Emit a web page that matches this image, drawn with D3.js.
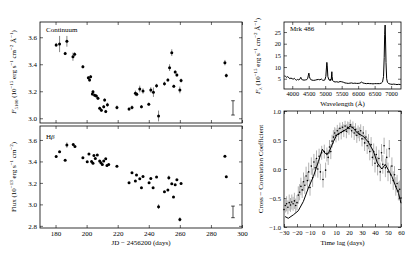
<!DOCTYPE html>
<html lang="en">
<head>
<meta charset="UTF-8">
<title>Mrk 486</title>
<script src="https://d3js.org/d3.v7.min.js"></script>
<style>
  body { margin: 0; background: #fff; }
  svg text { font-family: "Liberation Serif", "DejaVu Serif", serif; fill: #000; }
</style>
</head>
<body>
<div id="chart"></div>
<script>
// continuum light curve: JD-2456200, flux, error
const contJd   = [180.4,182.6,186.2,187.3,191.2,192.3,197.6,201.1,201.9,202.6,203.7,204.1,205.2,206.3,207.3,208.4,209.5,211.0,211.6,212.3,213.4,219.5,227.3,229.2,231.4,232.3,234.2,235.3,236.3,240.0,241.3,243.0,245.0,246.3,250.1,252.3,253.4,254.8,256.1,257.0,258.1,260.0,260.8,289.0,289.9];
const contFlux = [3.543,3.55,3.48,3.57,3.456,3.474,3.382,3.30,3.284,3.308,3.18,3.197,3.17,3.165,3.148,3.074,3.06,3.086,3.135,3.05,3.10,3.08,3.068,3.08,3.185,3.178,3.217,3.086,3.202,3.104,3.21,3.193,3.24,3.017,3.256,3.284,3.375,3.486,3.237,3.343,3.321,3.21,3.279,3.412,3.316];
const contErr  = [0.015,0.06,0.012,0.04,0.03,0.015,0.012,0.012,0.012,0.012,0.012,0.012,0.012,0.012,0.012,0.012,0.012,0.012,0.012,0.012,0.015,0.015,0.012,0.015,0.02,0.015,0.025,0.012,0.02,0.012,0.02,0.035,0.015,0.04,0.015,0.012,0.025,0.025,0.012,0.012,0.012,0.025,0.015,0.02,0.015];

// H-beta light curve
const hbJd   = [180.4,182.6,186.2,187.3,191.4,192.5,197.6,200.4,201.5,203.2,204.1,204.7,205.6,206.9,208.4,209.2,210.1,211.0,212.3,213.1,214.2,219.5,227.3,229.2,231.4,232.1,234.2,235.3,236.3,240.2,241.3,242.8,245.0,246.3,250.1,252.3,252.9,254.8,255.9,257.0,258.1,260.0,260.8,289.0,289.9];
const hbFlux = [3.447,3.49,3.41,3.552,3.558,3.54,3.434,3.397,3.47,3.40,3.384,3.456,3.428,3.459,3.403,3.388,3.372,3.403,3.425,3.363,3.372,3.356,3.202,3.295,3.217,3.273,3.239,3.155,3.26,3.202,3.242,3.155,3.254,2.979,3.118,3.133,3.248,3.193,3.068,3.183,3.23,2.86,3.195,3.449,3.258];
const hbErr  = [0.006,0.006,0.006,0.025,0.006,0.006,0.006,0.006,0.006,0.006,0.006,0.006,0.006,0.006,0.006,0.006,0.006,0.006,0.006,0.006,0.006,0.006,0.006,0.006,0.006,0.006,0.006,0.006,0.006,0.006,0.006,0.006,0.006,0.022,0.006,0.006,0.02,0.006,0.006,0.006,0.006,0.02,0.006,0.008,0.008];

// typical error bars drawn at the right
const contBar = [294.2, 3.077, 0.053];
const hbBar   = [294.2, 2.93, 0.054];

// mean spectrum: wavelength (A), flux
const specWave = [3760,3800,3830,3860,3900,3930,3960,4000,4030,4060,4100,4130,4160,4200,4240,4260,4280,4320,4360,4400,4440,4470,4490,4505,4520,4540,4570,4600,4650,4700,4750,4800,4840,4880,4920,4960,4990,5020,5040,5050,5062,5080,5110,5140,5152,5165,5185,5195,5202,5210,5225,5260,5300,5350,5400,5450,5500,5550,5600,5650,5700,5750,5800,5850,5900,5950,6000,6050,6090,6110,6140,6200,6250,6300,6350,6400,6450,6500,6550,6600,6650,6700,6740,6770,6790,6805,6818,6830,6845,6865,6890,6930,6980,7030,7080,7130,7180,7230,7290];
const specFlux = [6.2,6.0,5.6,5.9,5.4,5.0,5.3,5.0,4.8,5.2,4.6,4.4,4.7,4.5,5.0,5.6,4.8,4.5,4.4,4.5,4.6,5.2,6.5,7.4,6.0,5.0,4.6,4.4,4.3,4.4,4.6,4.7,4.5,4.9,4.4,4.3,4.5,6.0,10.0,12.0,10.5,6.0,4.6,4.3,4.9,4.2,4.6,7.0,8.0,6.0,4.2,3.8,3.6,3.7,3.5,3.8,3.7,3.5,3.2,3.1,3.0,3.1,3.2,3.0,3.1,3.0,3.0,3.1,3.4,3.6,3.2,3.0,2.9,3.0,2.9,2.9,2.8,2.9,2.9,2.9,2.9,3.1,3.6,6.0,14.0,24.0,28.0,22.0,12.0,5.0,3.4,2.9,2.7,2.6,2.7,2.6,2.5,2.6,2.5];

// interpolated cross-correlation function
const iccfLag = [-29.2,-26.7,-22.8,-19.0,-15.1,-11.3,-7.4,-3.5,-0.5,1.6,4.2,8.0,10.6,14.5,18.4,20.9,23.4,26.5,31.2,35.0,38.9,41.9,45.3,47.9,50.4,53.0,55.6,58.1,60.0];
const iccfR   = [-0.82,-0.85,-0.79,-0.72,-0.56,-0.33,-0.13,0.13,0.34,0.27,0.27,0.47,0.59,0.64,0.69,0.74,0.70,0.62,0.56,0.46,0.30,0.10,0.0,0.08,-0.02,-0.13,-0.28,-0.42,-0.59];

// discrete correlation points with errors
const dcfLag = [-30,-29,-28,-27,-26,-25,-24,-23,-22,-21,-20,-19,-18,-17,-16,-15,-14,-13,-12,-11,-10,-9,-8,-7,-6,-5,-4,-3,-2,-1,0,1,2,3,4,5,6,7,8,9,10,11,12,13,14,15,16,17,18,19,20,21,22,23,24,25,26,27,28,29,30,31,32,33,34,35,36,37,38,39,40,41,42,43,44,45,46,47,48,49,50,51,52,53,54,55,56,57,58,59,60];
const dcfR   = [-0.70,-0.63,-0.60,-0.66,-0.58,-0.62,-0.57,-0.60,-0.55,-0.63,-0.58,-0.45,-0.40,-0.30,-0.36,-0.22,-0.28,-0.12,-0.20,-0.05,-0.32,0.05,-0.15,0.12,0.02,0.18,0.00,0.22,-0.05,0.28,-0.18,0.30,-0.02,0.25,0.20,0.38,0.30,0.48,0.55,0.62,0.58,0.66,0.60,0.70,0.63,0.72,0.66,0.74,0.65,0.72,0.70,0.76,0.66,0.72,0.62,0.68,0.58,0.64,0.60,0.66,0.52,0.62,0.45,0.55,0.40,0.47,0.30,0.42,0.20,0.30,0.10,0.25,0.05,0.18,-0.05,0.28,0.08,0.40,0.02,0.20,-0.05,0.35,-0.10,0.05,-0.20,-0.10,-0.30,-0.25,-0.38,-0.35,-0.50];
const dcfErr = [0.12,0.12,0.13,0.12,0.14,0.12,0.13,0.12,0.14,0.12,0.13,0.15,0.14,0.15,0.14,0.16,0.15,0.16,0.15,0.16,0.14,0.15,0.16,0.14,0.15,0.14,0.15,0.13,0.14,0.12,0.14,0.12,0.13,0.12,0.13,0.12,0.13,0.11,0.12,0.10,0.12,0.10,0.11,0.10,0.12,0.09,0.11,0.09,0.12,0.10,0.11,0.09,0.12,0.10,0.12,0.11,0.13,0.11,0.12,0.11,0.13,0.12,0.14,0.12,0.14,0.13,0.15,0.13,0.15,0.14,0.16,0.14,0.16,0.15,0.16,0.15,0.16,0.14,0.16,0.15,0.16,0.15,0.16,0.15,0.16,0.15,0.16,0.15,0.16,0.15,0.16];

const W = 415, H = 259;
const svg = d3.select("#chart").append("svg").attr("width", W).attr("height", H);
const FS = 7;

// text with italic/sub/sup parts
function rich(sel, parts) {
  let shift = 0;
  parts.forEach(p => {
    const [s, t] = p;
    const ts = sel.append("tspan").text(s);
    let target = 0;
    if (t === "sup") target = -2.6;
    if (t === "sub") target = 1.6;
    ts.attr("dy", target - shift);
    shift = target;
    if (t === "sup" || t === "sub") ts.attr("font-size", 5);
    if (t === "it") ts.attr("font-style", "italic");
  });
}

function panel(left, top, w, h, xs, ys, xt, yt, opt) {
  const g = svg.append("g").attr("transform", `translate(${left},${top})`);
  const xa = g.append("g").attr("transform", `translate(0,${h})`)
    .call(d3.axisBottom(xs).tickValues(xt).tickSize(-3).tickPadding(3).tickFormat(opt.xlabels ? d3.format("d") : ""));
  g.append("g").call(d3.axisTop(xs).tickValues(xt).tickSize(-3).tickFormat(""));
  g.append("g").call(d3.axisLeft(ys).tickValues(yt).tickSize(-3).tickPadding(3).tickFormat(opt.yfmt));
  g.append("g").attr("transform", `translate(${w},0)`)
    .call(d3.axisRight(ys).tickValues(yt).tickSize(-3).tickFormat(""));
  g.selectAll(".domain").remove();
  g.selectAll(".tick line").attr("stroke", "#000").attr("stroke-width", 0.6);
  g.selectAll(".tick text").attr("font-size", FS).attr("font-family", "Liberation Serif, DejaVu Serif, serif");
  g.append("rect").attr("width", w).attr("height", h)
    .attr("fill", "none").attr("stroke", "#000").attr("stroke-width", 0.8);
  return g;
}

function errPoints(g, xs, ys, jd, fl, er) {
  const d = jd.map((j, i) => ({ j, f: fl[i], e: er[i] }));
  g.selectAll(null).data(d).enter().append("line")
    .attr("x1", p => xs(p.j)).attr("x2", p => xs(p.j))
    .attr("y1", p => ys(p.f - p.e)).attr("y2", p => ys(p.f + p.e))
    .attr("stroke", "#333").attr("stroke-width", 0.6);
  g.selectAll(null).data(d).enter().append("circle")
    .attr("cx", p => xs(p.j)).attr("cy", p => ys(p.f)).attr("r", 1.5).attr("fill", "#000");
}

function scaleBar(g, xs, ys, b) {
  const x = xs(b[0]);
  g.append("line").attr("x1", x).attr("x2", x).attr("y1", ys(b[1] - b[2])).attr("y2", ys(b[1] + b[2]))
    .attr("stroke", "#000").attr("stroke-width", 0.7);
  [b[1] - b[2], b[1] + b[2]].forEach(v => g.append("line")
    .attr("x1", x - 1.8).attr("x2", x + 1.8).attr("y1", ys(v)).attr("y2", ys(v))
    .attr("stroke", "#000").attr("stroke-width", 0.7));
}

// ---- light curves ----
const lcL = 40, lcW = 202;
const xLC = d3.scaleLinear().domain([170, 300]).range([0, lcW]);
const lcTicks = [180, 200, 220, 240, 260, 280, 300];

const y1 = d3.scaleLinear().domain([2.965, 3.713]).range([101, 0]);
const g1 = panel(lcL, 22, lcW, 101, xLC, y1, lcTicks, [3.0, 3.2, 3.4, 3.6], { xlabels: false, yfmt: d3.format(".1f") });
errPoints(g1, xLC, y1, contJd, contFlux, contErr);
scaleBar(g1, xLC, y1, contBar);
g1.append("text").attr("x", 6).attr("y", 10).attr("font-size", FS).text("Continuum");

const y2 = d3.scaleLinear().domain([2.78, 3.73]).range([102, 0]);
const g2 = panel(lcL, 126, lcW, 102, xLC, y2, lcTicks, [2.8, 3.0, 3.2, 3.4, 3.6], { xlabels: true, yfmt: d3.format(".1f") });
errPoints(g2, xLC, y2, hbJd, hbFlux, hbErr);
scaleBar(g2, xLC, y2, hbBar);
rich(g2.append("text").attr("x", 6).attr("y", 13).attr("font-size", FS), [["H", "n"], ["β", "it"]]);

svg.append("text").attr("x", lcL + lcW / 2).attr("y", 245).attr("text-anchor", "middle").attr("font-size", FS)
  .text("JD − 2456200 (days)");

rich(svg.append("text").attr("transform", "translate(16,72) rotate(-90)").attr("text-anchor", "middle").attr("font-size", FS),
  [["F", "it"], ["5100", "sub"], [" (10", "n"], ["−15", "sup"], [" erg s", "n"], ["−1", "sup"], [" cm", "n"], ["−2", "sup"], [" Å", "n"], ["−1", "sup"], [")", "n"]]);
rich(svg.append("text").attr("transform", "translate(16,177) rotate(-90)").attr("text-anchor", "middle").attr("font-size", FS),
  [["Flux (10", "n"], ["−13", "sup"], [" erg s", "n"], ["−1", "sup"], [" cm", "n"], ["−2", "sup"], [")", "n"]]);

// ---- spectrum ----
const rL = 284, rW = 117;
const xS = d3.scaleLinear().domain([3750, 7300]).range([0, rW]);
const yS = d3.scaleLinear().domain([0.6, 29.3]).range([67, 0]);
const g3 = panel(rL, 22, rW, 67, xS, yS, [4000, 4500, 5000, 5500, 6000, 6500, 7000], [5, 10, 15, 20, 25], { xlabels: true, yfmt: d3.format("d") });
g3.selectAll(".tick text").attr("font-size", 6.3);
g3.append("path").datum(specWave.map((w, i) => [w, specFlux[i]]))
  .attr("d", d3.line().x(d => xS(d[0])).y(d => yS(d[1])))
  .attr("fill", "none").attr("stroke", "#000").attr("stroke-width", 1);
g3.append("text").attr("x", 6).attr("y", 9).attr("font-size", FS).text("Mrk 486");
svg.append("text").attr("x", rL + rW / 2).attr("y", 106).attr("text-anchor", "middle").attr("font-size", FS).text("Wavelength (Å)");
rich(svg.append("text").attr("transform", "translate(260,56) rotate(-90)").attr("text-anchor", "middle").attr("font-size", FS),
  [["F", "it"], ["λ", "sub"], [" (10", "n"], ["−15", "sup"], [" erg s", "n"], ["−1", "sup"], [" cm", "n"], ["−2", "sup"], [" Å", "n"], ["−1", "sup"], [")", "n"]]);

// ---- cross-correlation ----
const xC = d3.scaleLinear().domain([-30, 60]).range([0, rW]);
const yC = d3.scaleLinear().domain([-1, 1]).range([116, 0]);
const g4 = panel(rL, 111, rW, 116, xC, yC, [-30, -20, -10, 0, 10, 20, 30, 40, 50, 60], [-1, -0.5, 0, 0.5, 1], { xlabels: true, yfmt: d3.format(".1f") });
g4.selectAll(".tick text").attr("font-size", 6.5);
const dcf = dcfLag.map((l, i) => ({ l, r: dcfR[i], e: dcfErr[i] }));
g4.selectAll(null).data(dcf).enter().append("line")
  .attr("x1", d => xC(d.l)).attr("x2", d => xC(d.l))
  .attr("y1", d => yC(d.r - d.e)).attr("y2", d => yC(d.r + d.e))
  .attr("stroke", "#a8a8a8").attr("stroke-width", 0.9);
g4.append("path").datum(iccfLag.map((l, i) => [l, iccfR[i]]))
  .attr("d", d3.line().x(d => xC(d[0])).y(d => yC(d[1])))
  .attr("fill", "none").attr("stroke", "#000").attr("stroke-width", 1);
g4.selectAll(null).data(dcf).enter().append("circle")
  .attr("cx", d => xC(d.l)).attr("cy", d => yC(d.r)).attr("r", 0.8).attr("fill", "#000");
svg.append("text").attr("x", rL + rW / 2).attr("y", 245).attr("text-anchor", "middle").attr("font-size", FS).text("Time lag (days)");
svg.append("text").attr("transform", "translate(263,169) rotate(-90)").attr("text-anchor", "middle").attr("font-size", FS)
  .text("Cross − Correlation Coefficient");
</script>
</body>
</html>
